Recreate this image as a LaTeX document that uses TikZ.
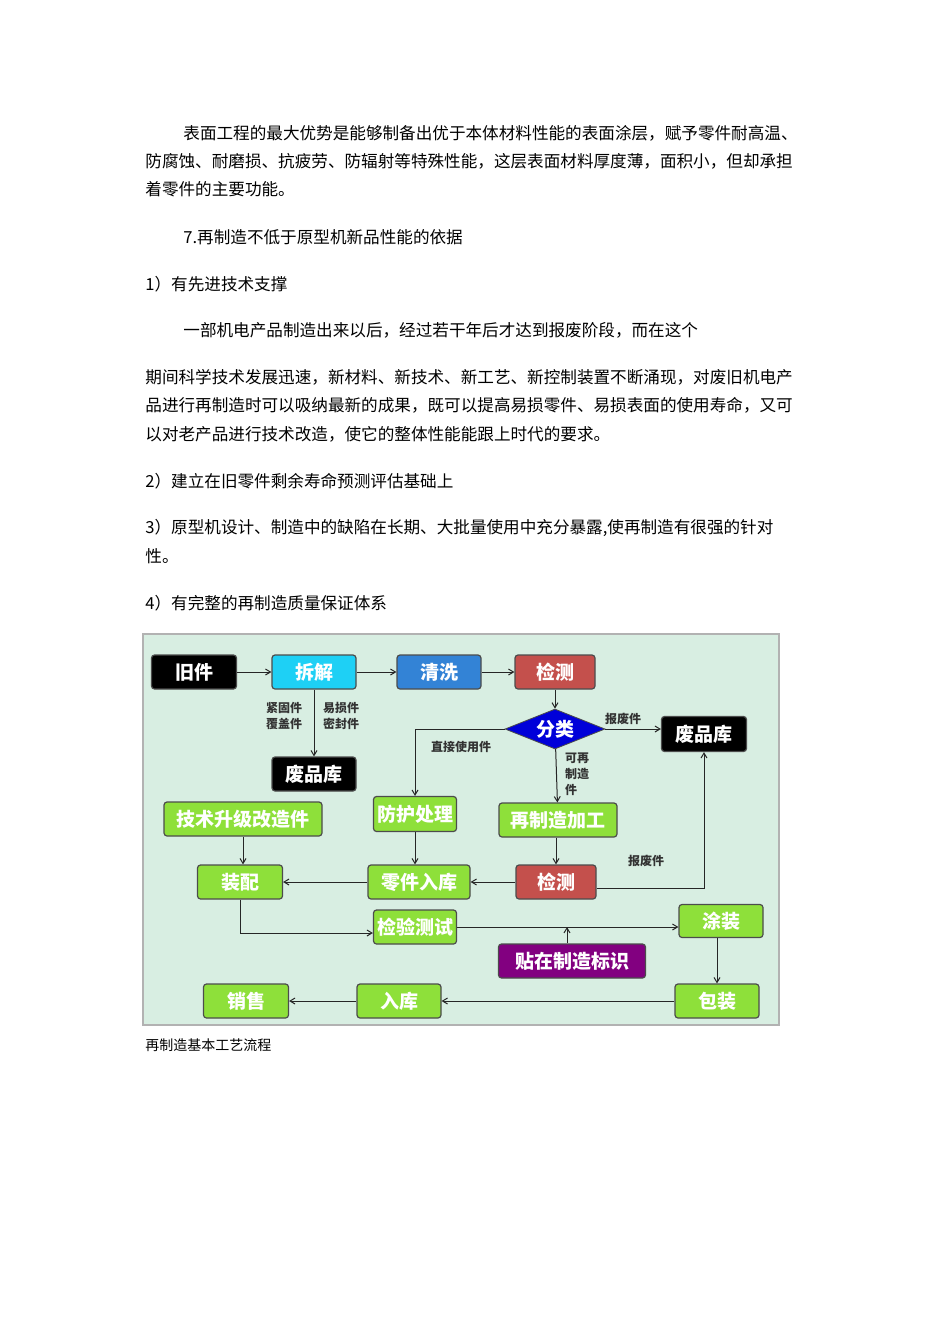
\documentclass[tikz,border=0pt]{standalone}
\usepackage{fontspec}
\setmainfont{Noto Sans CJK SC}
\usetikzlibrary{shapes.geometric,arrows.meta}
\definecolor{bg}{HTML}{D8EEE2}
\definecolor{gr}{HTML}{8EE03A}
\definecolor{cy}{HTML}{1ED0F5}
\definecolor{bl}{HTML}{3383D6}
\definecolor{rd}{HTML}{C4504C}
\definecolor{pu}{HTML}{820080}
\tikzset{
 body/.style={anchor=west,inner sep=0,font=\fontsize{8.3pt}{10pt}\selectfont},
 bx/.style={draw=black!70,line width=0.6pt,rounded corners=1.5pt,inner sep=0,text=white,font=\fontsize{9.5pt}{11pt}\selectfont\bfseries},
 blk/.style={bx,fill=black},
 grn/.style={bx,fill=gr},
 lbl/.style={inner sep=0,font=\fontsize{6pt}{8pt}\selectfont\bfseries,text=black!80,align=left},
 ar/.style={-{Straight Barb[length=2.5pt,width=3pt]},line width=0.5pt,black!85},
 ln/.style={line width=0.5pt,black!85}
}
\begin{document}
\begin{tikzpicture}[x=0.5pt,y=-0.5pt]
\useasboundingbox[fill=white] (0,0) rectangle (950,1344);
\node[body] at (183,133) {表面工程的最大优势是能够制备出优于本体材料性能的表面涂层，赋予零件耐高温、};
\node[body] at (145,161) {防腐蚀、耐磨损、抗疲劳、防辐射等特殊性能，这层表面材料厚度薄，面积小，但却承担};
\node[body] at (145,189) {着零件的主要功能。};
\node[body] at (183,237) {7.再制造不低于原型机新品性能的依据};
\node[body] at (145,284) {1）有先进技术支撑};
\node[body] at (183,330) {一部机电产品制造出来以后，经过若干年后才达到报废阶段，而在这个};
\node[body] at (145,377) {期间科学技术发展迅速，新材料、新技术、新工艺、新控制装置不断涌现，对废旧机电产};
\node[body] at (145,405) {品进行再制造时可以吸纳最新的成果，既可以提高易损零件、易损表面的使用寿命，又可};
\node[body] at (145,434) {以对老产品进行技术改造，使它的整体性能能跟上时代的要求。};
\node[body] at (145,481) {2）建立在旧零件剩余寿命预测评估基础上};
\node[body] at (145,528) {3）原型机设计、制造中的缺陷在长期、大批量使用中充分暴露,使再制造有很强的针对};
\node[body] at (145,556) {性。};
\node[body] at (145,603) {4）有完整的再制造质量保证体系};
\node[body,font=\fontsize{7pt}{8pt}\selectfont] at (145,1045) {再制造基本工艺流程};
\draw[fill=bg,draw=black!30,line width=0.6pt] (143,634) rectangle (779,1025);
% nodes
\node[blk,minimum width=42.5pt,minimum height=17pt] (jj) at (194,672) {旧件};
\node[bx,fill=cy,minimum width=42pt,minimum height=17pt] (cj) at (314,672) {拆解};
\node[bx,fill=bl,minimum width=42pt,minimum height=17pt] (qx) at (439,672) {清洗};
\node[bx,fill=rd,minimum width=40pt,minimum height=17pt] (jc) at (555,672) {检测};
\node[diamond,aspect=2.5,fill=blue!85!black,draw=black!70,inner sep=0,minimum width=50pt,minimum height=20pt,text=white,font=\fontsize{9.5pt}{11pt}\selectfont\bfseries] (fl) at (555,729) {分类};
\node[blk,minimum width=42.5pt,minimum height=17.5pt] (fr) at (704,734) {废品库};
\node[blk,minimum width=42pt,minimum height=17pt] (fpl) at (314,774) {废品库};
\node[grn,minimum width=79pt,minimum height=17pt] (js) at (243,819) {技术升级改造件};
\node[grn,minimum width=41.5pt,minimum height=17.5pt] (fh) at (415,814) {防护处理};
\node[grn,minimum width=59pt,minimum height=17pt] (zz) at (558,820) {再制造加工};
\node[grn,minimum width=42.5pt,minimum height=17pt] (zp) at (240,882) {装配};
\node[grn,minimum width=51pt,minimum height=17pt] (lj) at (419,882) {零件入库};
\node[bx,fill=rd,minimum width=40pt,minimum height=17pt] (jc2) at (556,882) {检测};
\node[grn,minimum width=41.5pt,minimum height=17pt] (jy) at (415,927) {检验测试};
\node[grn,minimum width=42pt,minimum height=16.5pt] (tz) at (721,921) {涂装};
\node[bx,fill=pu,minimum width=73.5pt,minimum height=17pt] (tb) at (572,961) {贴在制造标识};
\node[grn,minimum width=42.5pt,minimum height=17pt] (xs) at (246,1001) {销售};
\node[grn,minimum width=42pt,minimum height=17pt] (rk) at (399,1001) {入库};
\node[grn,minimum width=42pt,minimum height=17pt] (bz) at (717,1001) {包装};
\coordinate (c1) at (415,747);
\coordinate (c2) at (706,888);
\coordinate (c3) at (240,933);
\coordinate (c4) at (567,927);
% edges
\draw[ar] (jj) -- (cj);
\draw[ar] (cj) -- (qx);
\draw[ar] (qx) -- (jc);
\draw[ar] (cj) -- (fpl);
\draw[ar] (jc) -- (fl);
\draw[ar] (fl) -- (fr.west|-fl);
\draw[ar] (fl.west) -| (fh.north);
\draw[ar] (fl) -- (zz);
\draw[ar] (js) -- (zp.north-|js);
\draw[ar] (fh) -- (lj.north-|fh);
\draw[ar] (zz.south-|jc2) -- (jc2);
\draw[ar] (jc2) -- (lj);
\draw[ar] (jc2.east|-c2) -| (fr.south);
\draw[ar] (lj) -- (zp);
\draw[ar] (zp.south) |- (jy.west|-c3);
\draw[ar] (jy.east|-c4) -- (tz.west|-c4);
\draw[ar] (tb.north-|c4) -- (c4);
\draw[ar] (tz.south-|bz) -- (bz);
\draw[ar] (bz) -- (rk);
\draw[ar] (rk) -- (xs);
% labels
\node[lbl] at (284,716) {紧固件\\覆盖件};
\node[lbl] at (341,716) {易损件\\密封件};
\node[lbl] at (623,719) {报废件};
\node[lbl] at (461,747) {直接使用件};
\node[lbl] at (577,774) {可再\\制造\\件};
\node[lbl] at (646,861) {报废件};
\end{tikzpicture}
\end{document}
